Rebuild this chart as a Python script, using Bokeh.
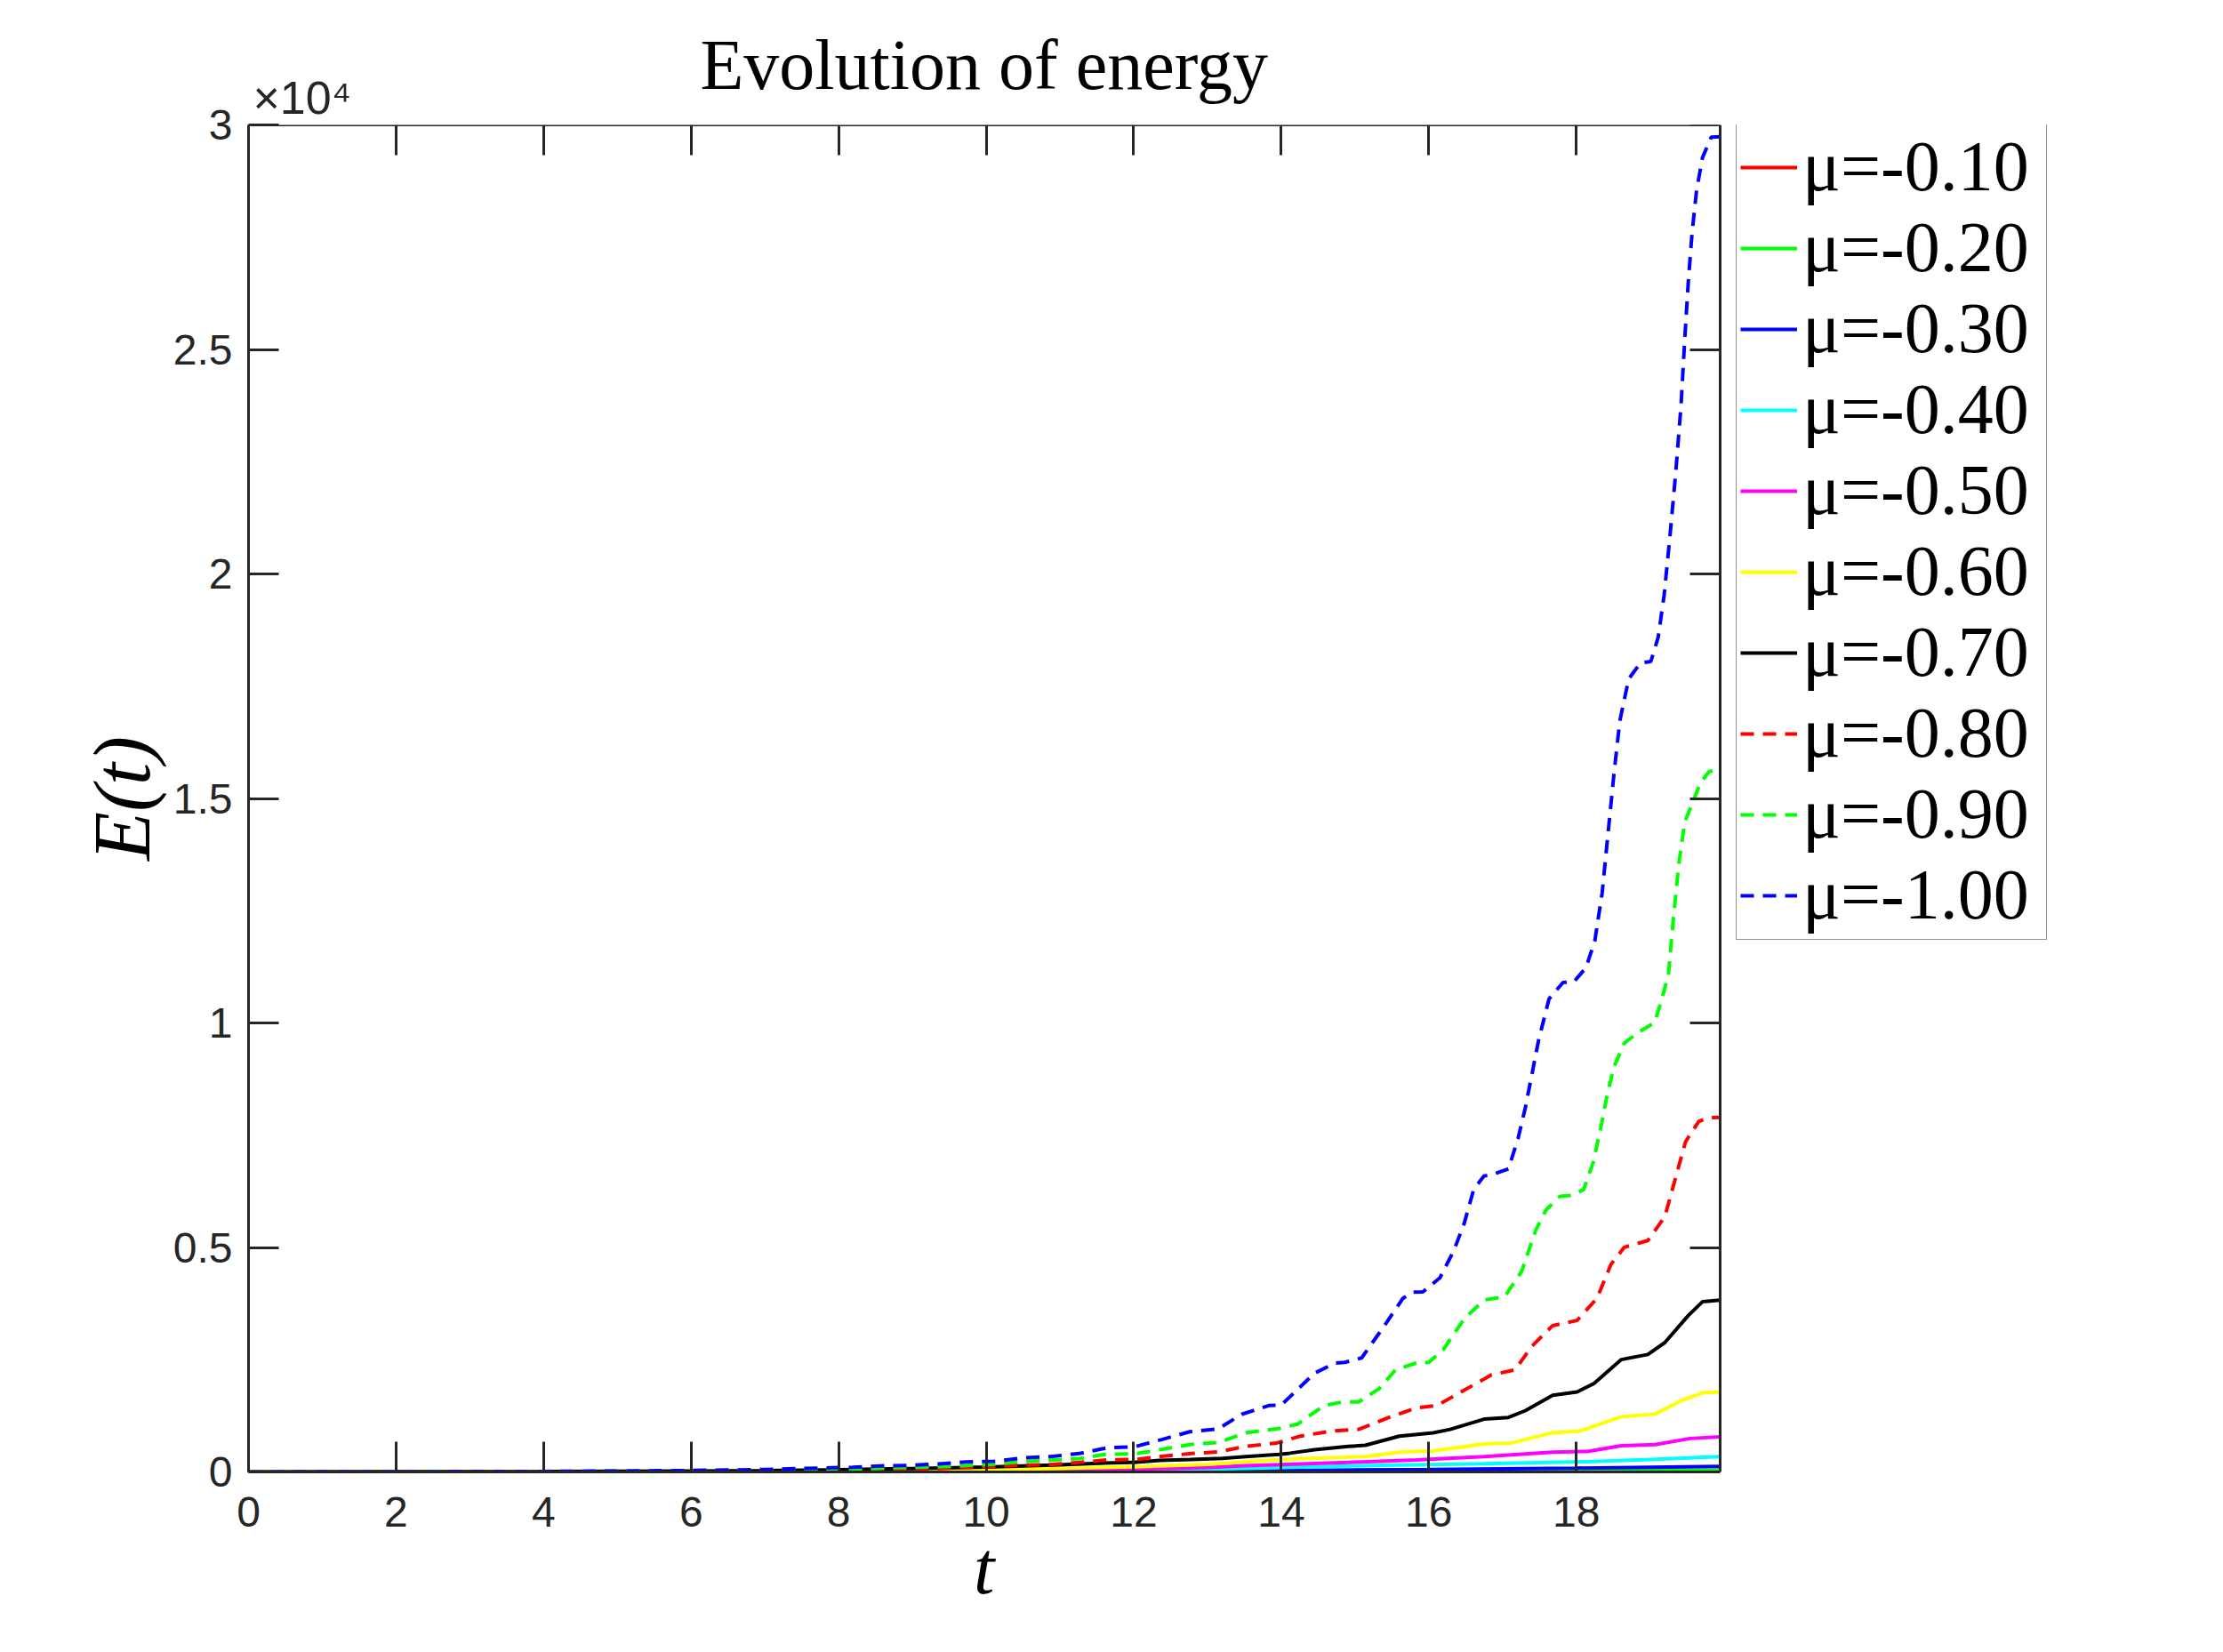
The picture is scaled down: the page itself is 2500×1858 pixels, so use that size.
from bokeh.plotting import figure
from bokeh.models import Range1d, FixedTicker, LinearAxis, Legend, LegendItem, Title
from bokeh.embed import file_html
from bokeh.resources import INLINE

# ---------------- data ----------------
x_ticks = [0, 2, 4, 6, 8, 10, 12, 14, 16, 18]
y_ticks = [0, 5000, 10000, 15000, 20000, 25000, 30000]
y_tick_labels = ["0", "0.5", "1", "1.5", "2", "2.5", "3"]

labels = ["μ=-0.10", "μ=-0.20", "μ=-0.30", "μ=-0.40", "μ=-0.50",
          "μ=-0.60", "μ=-0.70", "μ=-0.80", "μ=-0.90", "μ=-1.00"]

t_m010 = [0, 12, 16, 19.95]
e_m010 = [0, 2, 6, 12]

t_m020 = [0, 10, 14, 16, 18, 19.95]
e_m020 = [0, 2, 10, 20, 30, 42]

t_m030 = [0, 8, 10, 12, 14, 16, 18, 19.95]
e_m030 = [0.1, 2, 5, 15, 30, 55, 85, 125]

t_m040 = [0, 6, 8, 10, 12, 13.52, 15.37, 16.75, 18.15, 19.07, 19.95]
e_m040 = [0.2, 2, 5, 11, 35, 77, 150, 185, 230, 281, 343]

t_m050 = [0, 4, 6, 8, 10, 12, 13, 13.52, 14.91, 15.83, 16.75, 17.68, 18.15, 18.61,
          19.07, 19.54, 19.95]
e_m050 = [0.3, 2, 5, 11, 25, 60, 100, 139, 214, 267, 343, 442, 457, 586,
          608, 745, 782]

t_m060 = [0, 4, 6, 8, 10, 11, 12, 13, 13.52, 14.22, 15.14, 15.60, 16.06, 16.75, 17.12,
          17.68, 18.05, 18.61, 19.07, 19.43, 19.71, 19.95]
e_m060 = [0.5, 4, 10, 22, 55, 80, 115, 170, 230, 290, 343, 442, 472, 624, 646,
          873, 911, 1230, 1290, 1594, 1760, 1782]

t_m070 = [0, 2, 4, 6, 7, 8, 9, 10, 11, 11.6, 12.0, 12.35, 12.77, 13.2, 13.52, 13.97,
          14.12, 14.45, 14.91, 15.14, 15.60, 16.06, 16.29, 16.75, 17.08, 17.31, 17.68,
          18.01, 18.24, 18.61, 18.97, 19.20, 19.52, 19.71, 19.95]
e_m070 = [1, 3, 8, 20, 32, 50, 75, 110, 160, 200, 215, 257, 277, 303, 343, 389,
          418, 495, 570, 593, 798, 873, 948, 1176, 1214, 1366, 1707,
          1782, 1972, 2503, 2616, 2881, 3487, 3790, 3829]

t_m080 = [0, 2, 4, 6, 7, 8.0, 8.57, 8.96, 9.35, 9.73, 10.11, 10.49, 10.87, 11.26, 11.65,
          12.03, 12.40, 12.78, 13.16, 13.52, 13.94, 14.26, 14.68, 15.05, 15.46, 15.83,
          16.11, 16.48, 16.85, 17.17, 17.40, 17.68, 18.01, 18.28, 18.47, 18.65, 18.97,
          19.20, 19.34, 19.48, 19.66, 19.80, 19.95]
e_m080 = [1, 2, 5, 12, 22, 33, 46, 59, 73, 99, 125, 152, 165, 211, 271,
          277, 350, 409, 449, 570, 645, 798, 911, 948, 1214, 1426,
          1479, 1820, 2162, 2275, 2806, 3259, 3374, 3867, 4623, 5003, 5154,
          5685, 6518, 7352, 7807, 7890, 7898]

t_m090 = [0, 2, 4, 6, 7, 8.19, 8.57, 8.96, 9.35, 9.73, 10.11, 10.49, 10.87, 11.26, 11.63,
          12.01, 12.40, 12.78, 13.16, 13.52, 13.98, 14.22, 14.58, 14.82, 15.05, 15.33,
          15.55, 15.83, 16.0, 16.20, 16.48, 16.75, 17.03, 17.26, 17.45, 17.59, 17.78,
          17.95, 18.10, 18.23, 18.33, 18.42, 18.51, 18.65, 18.84, 19.06, 19.16, 19.25,
          19.31, 19.39, 19.47, 19.57, 19.68, 19.80, 19.95]
e_m090 = [1, 3, 8, 20, 35, 46, 86, 99, 119, 145, 172, 231, 264, 297, 396,
          403, 508, 614, 660, 873, 972, 1063, 1479, 1555, 1560, 1858,
          2275, 2426, 2440, 2730, 3412, 3829, 3904, 4473, 5382, 5837, 6140,
          6160, 6291, 6897, 7655, 8413, 9019, 9550, 9791, 10003, 10534, 11100,
          12223, 13549, 14478, 14876, 15339, 15600, 15640]

t_m100 = [0, 2, 4, 5, 6, 7, 7.81, 8.19, 8.57, 8.96, 9.35, 9.73, 10.11, 10.49, 10.87,
          11.26, 11.63, 12.01, 12.39, 12.76, 13.14, 13.47, 13.83, 14.0, 14.45, 14.73,
          14.86, 15.09, 15.37, 15.65, 15.78, 15.92, 16.15, 16.34, 16.48, 16.61, 16.75,
          16.84, 17.08, 17.21, 17.31, 17.40, 17.49, 17.63, 17.82, 17.97, 18.13, 18.25,
          18.35, 18.43, 18.51, 18.59, 18.71, 18.87, 19.01, 19.11, 19.19, 19.27, 19.35,
          19.42, 19.47, 19.52, 19.57, 19.63, 19.71, 19.83, 19.95]
e_m100 = [2, 5, 12, 20, 33, 55, 90, 103, 135, 145, 178, 224, 238, 310, 343,
          409, 535, 561, 726, 897, 957, 1287, 1478, 1490, 2198, 2426,
          2440, 2540, 3190, 3867, 4004, 4010, 4321, 4931, 5535, 6297, 6594,
          6610, 6752, 7426, 8119, 8871, 9624, 10535, 10900, 10920, 11230, 11820,
          12890, 14220, 15540, 16730, 17660, 18020, 18050, 18590, 19520, 20850, 22300,
          23760, 25230, 26550, 27610, 28540, 29270, 29730, 29740]

series_t = [t_m010, t_m020, t_m030, t_m040, t_m050, t_m060, t_m070, t_m080, t_m090, t_m100]
series_e = [e_m010, e_m020, e_m030, e_m040, e_m050, e_m060, e_m070, e_m080, e_m090, e_m100]
colors = ["#FF0000", "#00FF00", "#0000FF", "#00FFFF", "#FF00FF",
          "#FFFF00", "#000000", "#FF0000", "#00FF00", "#0000FF"]
dashes = ["solid"] * 7 + ["15 10"] * 3

X_MAX = 19.95
Y_MAX = 30000
AX = "#262626"

# layout (pixels): the axes box is 1655 x 1515; the plotting frame is widened to
# the right so that the legend (outside the box) can live inside it unclipped
FIG_W, FIG_H = 2400, 1840
LEFT, TOP = 279, 140
BOX_W, BOX_H = 1655, 1515
FRAME_W = 2060
X_END = X_MAX * FRAME_W / BOX_W

p = figure(width=FIG_W, height=FIG_H, output_backend="svg", toolbar_location=None,
           x_range=Range1d(0, X_END), y_range=Range1d(0, Y_MAX),
           min_border_left=LEFT, min_border_right=FIG_W - LEFT - FRAME_W,
           min_border_top=TOP, min_border_bottom=FIG_H - TOP - BOX_H)
p.background_fill_color = "white"
p.border_fill_color = "white"
p.outline_line_color = None
p.xgrid.visible = False
p.ygrid.visible = False


def style_axis(ax, ticks):
    ax.ticker = FixedTicker(ticks=ticks)
    ax.axis_line_color = AX
    ax.axis_line_width = 3
    ax.major_tick_line_color = AX
    ax.major_tick_line_width = 3
    ax.major_tick_in = 34
    ax.major_tick_out = 0
    ax.minor_tick_line_color = None
    ax.minor_tick_out = 0
    ax.major_label_text_font = "Liberation Sans"
    ax.major_label_text_font_size = "48px"
    ax.major_label_text_color = AX


xa = p.xaxis[0]
style_axis(xa, x_ticks)
xa.bounds = (0, X_MAX)
xa.major_label_standoff = 28

ya = p.yaxis[0]
style_axis(ya, y_ticks)
ya.major_label_standoff = 18
ya.major_label_overrides = {tv: lab for tv, lab in zip(y_ticks, y_tick_labels)}
ya.axis_label = "E(t)"
ya.axis_label_text_font = "Liberation Serif"
ya.axis_label_text_font_style = "italic"
ya.axis_label_text_font_size = "90px"
ya.axis_label_text_color = "black"
ya.axis_label_standoff = 5

# x-axis label, centred under the axes box (not under the widened frame)
xlabel = Title(text="t", align="left", offset=BOX_W / 2 - 12, standoff=-10,
               text_font="Liberation Serif", text_font_size="84px",
               text_font_style="italic", text_color="black")
p.add_layout(xlabel, "below")

# box edges with inward ticks (top and right), pinned to the box edges
top_ax = LinearAxis(fixed_location=Y_MAX)
style_axis(top_ax, x_ticks)
top_ax.bounds = (0, X_MAX)
top_ax.major_label_text_font_size = "0px"
top_ax.major_label_standoff = 0
top_ax.major_label_overrides = {tv: "" for tv in x_ticks}
p.add_layout(top_ax, "above")

right_ax = LinearAxis(fixed_location=X_MAX)
style_axis(right_ax, y_ticks)
right_ax.major_label_text_font_size = "0px"
right_ax.major_label_standoff = 0
right_ax.major_label_overrides = {tv: "" for tv in y_ticks}
p.add_layout(right_ax, "right")

# exponent marker of the y axis (sits just above the top-left corner)
expo = Title(text="×10⁴", align="left", offset=5, standoff=4,
             text_font="Liberation Sans", text_font_size="52px",
             text_font_style="normal", text_color=AX)
p.add_layout(expo, "above")

p.title.text = "Evolution of energy"
p.title.align = "left"
p.title.offset = 508
p.title.text_font = "Liberation Serif"
p.title.text_font_size = "80px"
p.title.text_font_style = "normal"
p.title.text_color = "black"
p.title.standoff = -81

items = []
for t, e, c, d, lab in zip(series_t, series_e, colors, dashes, labels):
    r = p.line(t, e, line_color=c, line_width=4, line_dash=d)
    items.append(LegendItem(label=lab, renderers=[r]))

legend = Legend(items=items, location=(BOX_W + 18, BOX_H - 917))
legend.label_text_font = "Liberation Serif"
legend.label_text_font_size = "80px"
legend.label_text_color = "black"
legend.glyph_width = 64
legend.glyph_height = 40
legend.label_height = 91
legend.label_width = 270
legend.label_standoff = 6
legend.spacing = 0
legend.padding = 4
legend.margin = 0
legend.border_line_color = AX
legend.border_line_width = 1.5
legend.background_fill_color = "white"
legend.background_fill_alpha = 1.0
p.add_layout(legend)

open("out.html", "w").write(file_html(p, INLINE))
